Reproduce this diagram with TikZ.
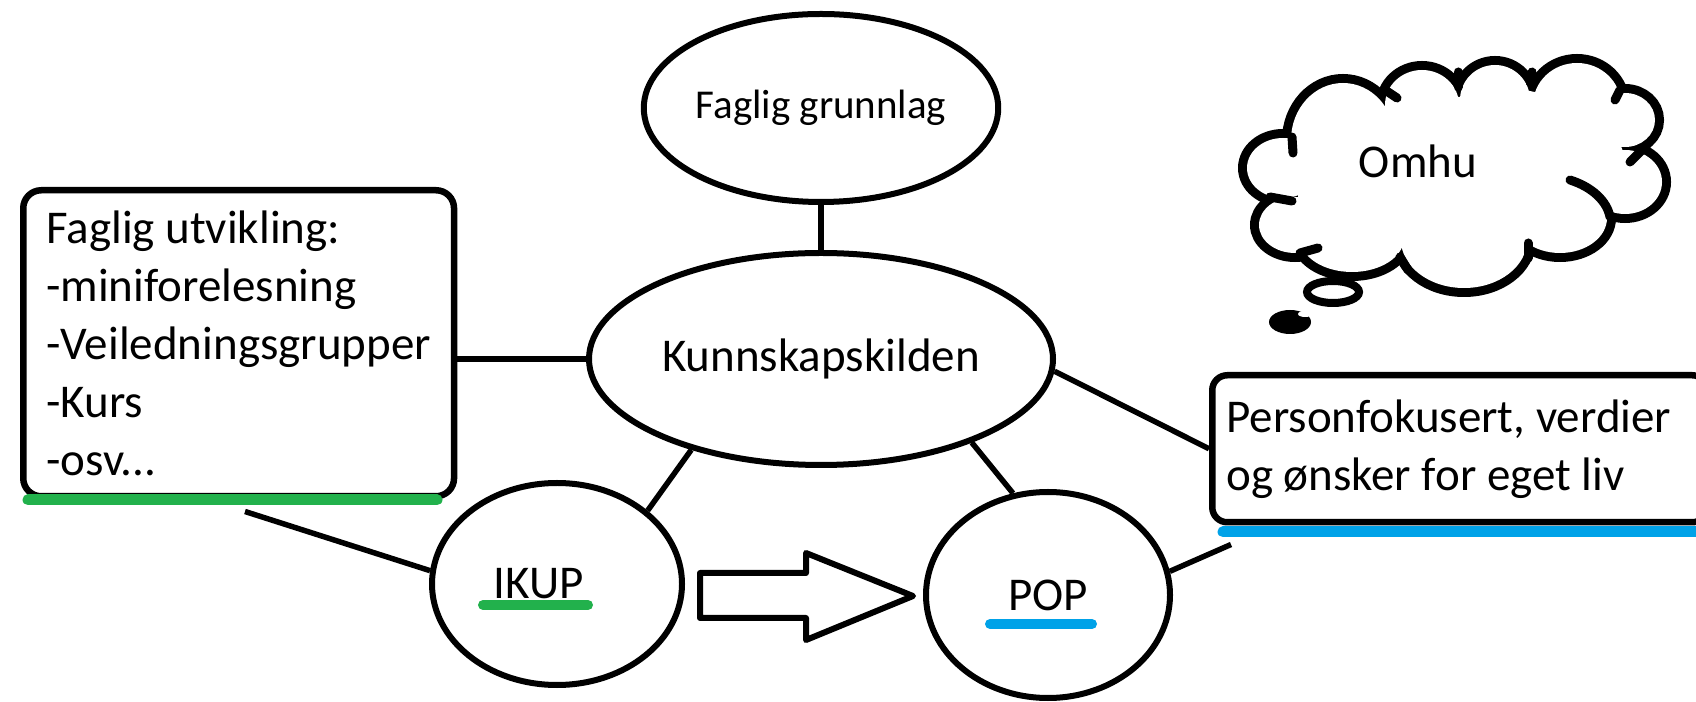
\documentclass[tikz,border=0pt]{standalone}
\usepackage{fontspec}
\setmainfont{Carlito}
\usetikzlibrary{shapes.geometric}
\usetikzlibrary{positioning}
\definecolor{paintgreen}{HTML}{22B14C}
\definecolor{paintblue}{HTML}{00A2E8}
\newcommand{\omhupuffs}{1283/533/36/30, 1295/476/36/28, 1352/463/52/34,
    1464/461/63/48, 1560/483/47/35, 1625/519/37/32, 1625/581/30/27,
    1577/596/44/42, 1495/601/35/35, 1422/596/37/35, 1343/561/52/57}
\tikzset{x=1pt,y=1pt,
    every node/.style={
        font=\fontsize{47}{58}\selectfont},
    bubble/.style={
        ellipse,
        draw,
        line width=6pt,
        fill=white,
        inner sep=0pt},
    infobox/.style={
        draw,
        line width=6.5pt,
        rounded corners=18pt,
        fill=white,
        align=flush left},
    link/.style={
        draw,
        line width=5.5pt},
    underline/.style={
        line width=11pt,
        line cap=round},
    cloudline/.style={
        line width=9pt,
        line cap=round}}

\begin{document}
\begin{tikzpicture}
        \useasboundingbox (0,0) rectangle (1696,701);

        \node[bubble,minimum width=464pt,minimum height=212pt] (kunn) at (821,342) {Kunnskapskilden};
        \node[bubble,minimum width=308pt,minimum height=188pt,above of=kunn,node distance=251pt,
            font=\fontsize{41}{50}\selectfont] (grunn) {Faglig grunnlag};
        \node[bubble,minimum width=250pt,minimum height=202pt] (ikup) at (557,117) {IKUP\hspace*{36pt}};
        \node[bubble,minimum width=244pt,minimum height=206pt] (pop) at (1048,106) {POP};
        \node[infobox,anchor=north west,minimum height=306pt,inner xsep=23pt] (utv) at (20,514)
            {Faglig utvikling:\\-miniforelesning\\-Veiledningsgrupper\\-Kurs\\-osv...};
        \node[infobox,anchor=north west,minimum height=147pt,text width=467pt,inner xsep=14pt,
            rounded corners=15pt] (person) at (1209,329) {Personfokusert, verdier\\og ønsker for eget liv};

        \coordinate[below right=12pt and 225pt of utv.south west] (utvfoot);
        \coordinate[below right=19pt and 22pt of person.south west] (personfoot);

        \draw[link] (grunn) -- (kunn);
        \draw[link] (kunn.west) -- (kunn.west -| utv.east);
        \draw[link] (kunn.215) -- (ikup.39);
        \draw[link] (kunn.331) -- (pop.109);
        \draw[link] (kunn.357) -- (person.west);
        \draw[link] (utvfoot) -- (ikup.174);
        \draw[link] (pop.11) -- (personfoot);

        \draw[underline,paintgreen] (28,201) -- (437,201);
        \draw[underline,paintblue] (1223,169) -- (1700,169);
        \draw[underline,line width=10pt,paintgreen] (483,96) -- (588,96);
        \draw[underline,line width=10pt,paintblue] (990,77) -- (1092,77);

        \draw[line width=6pt,line join=round,fill=white] (700,128) -- (806,128) -- (806,148) -- (913,105)
            -- (806,61) -- (806,83) -- (700,83) -- cycle;

        \foreach \cx/\cy/\rx/\ry in \omhupuffs
            \draw[line width=18pt] (\cx,\cy) ellipse[x radius=\rx, y radius=\ry];
        \foreach \cx/\cy/\rx/\ry in \omhupuffs
            \fill[white] (\cx,\cy) ellipse[x radius=\rx, y radius=\ry];
        \fill[white] (1298,556) -- (1398,597) -- (1458,604) -- (1525,611) -- (1606,594) -- (1624,547)
            -- (1600,490) -- (1522,461) -- (1408,453) -- (1322,456) -- (1298,503) -- cycle;
        \draw[cloudline] (1292,564) -- (1293,548);
        \draw[cloudline] (1270,504) -- (1292,500);
        \draw[cloudline] (1300,448) -- (1318,453);
        \draw[cloudline] (1408,431) -- (1400,444);
        \draw[cloudline] (1528,443) -- (1528,458);
        \draw[cloudline] (1570,521) .. controls (1592,514) and (1607,500) .. (1610,484);
        \draw[cloudline] (1630,539) -- (1647,556);
        \draw[cloudline] (1615,601) -- (1620,611);
        \draw[cloudline] (1530,619) -- (1532,629);
        \draw[cloudline] (1458,614) -- (1458,629);
        \draw[cloudline] (1397,603) -- (1385,611);
        \draw[line width=8pt,fill=white] (1333,409) ellipse[x radius=26, y radius=11];
        \fill (1290,379) ellipse[x radius=21, y radius=12];
        \fill[white] (1305,387) ellipse[x radius=7, y radius=3];
        \node (omhu) at (1418,540) {Omhu};
    \end{tikzpicture}
\end{document}
